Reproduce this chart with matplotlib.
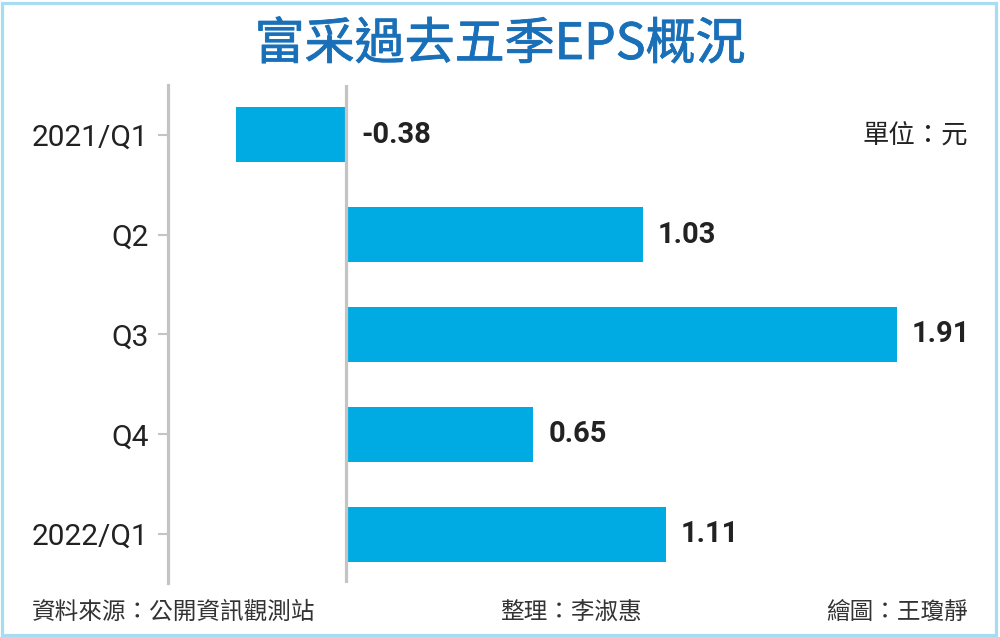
import matplotlib
matplotlib.use("Agg")
import matplotlib.pyplot as plt
import matplotlib.patheffects as pe
from matplotlib import font_manager
from matplotlib.patches import Rectangle

categories = ["2021/Q1", "Q2", "Q3", "Q4", "2022/Q1"]
eps = [-0.38, 1.03, 1.91, 0.65, 1.11]
value_labels = ["-0.38", "1.03", "1.91", "0.65", "1.11"]
title = "富采過去五季EPS概況"
unit = "單位：元"
source = "資料來源：公開資訊觀測站"
editor = "整理：李淑惠"
artist = "繪圖：王瓊靜"

names = {f.name for f in font_manager.fontManager.ttflist}
val_font = "Liberation Sans Narrow" if "Liberation Sans Narrow" in names else "Roboto"
cjk = ["Noto Sans CJK TC", "DejaVu Sans"]

BAR = "#00abe4"
GRAY = "#c4c4c4"
TITLE = "#1a70b8"

W, H = 1000, 637
fig = plt.figure(figsize=(W / 100, H / 100), dpi=100)
fig.patch.set_facecolor("white")

ax_left, ax_right = 168.3, 990.0
ax_top, ax_bot = 85.0, 583.0
ax = fig.add_axes([ax_left / W, 1 - ax_bot / H, (ax_right - ax_left) / W, (ax_bot - ax_top) / H])
ax.set_facecolor("none")

ypos = list(range(len(categories)))
ax.barh(ypos, eps, height=0.55, color=BAR, zorder=2)
ax.axvline(0, color=GRAY, lw=2.3, zorder=3)

ax.set_xlim(-0.616, (ax_right - 346) / 288.3)
ax.set_ylim(4.49, -0.5)

for s in ["top", "right", "bottom"]:
    ax.spines[s].set_visible(False)
ax.spines["left"].set_color(GRAY)
ax.spines["left"].set_linewidth(2.3)
ax.set_xticks([])
ax.set_yticks(ypos)
ax.set_yticklabels(categories, fontfamily="Roboto", fontsize=21.5, color="#222222")
ax.tick_params(axis="y", length=7, width=1.5, color=GRAY, pad=7)

for y, v, lab in zip(ypos, eps, value_labels):
    x0 = max(v, 0)
    ax.annotate(lab, xy=(x0, y), xytext=(15, 0), textcoords="offset pixels",
                ha="left", va="center", fontfamily=val_font, fontweight="bold",
                fontsize=22 if val_font != "Roboto" else 21, color="#222222")

fig.text(0.5, 1 - 45 / H, title, ha="center", va="center", fontfamily=cjk,
         fontweight="normal", fontsize=36, color=TITLE,
         path_effects=[pe.withStroke(linewidth=0.6, foreground=TITLE)])
fig.text(968 / W, 1 - 135 / H, unit, ha="right", va="center", fontfamily=cjk,
         fontsize=19, color="#222222")
fig.text(32 / W, 1 - 612 / H, source, ha="left", va="center", fontfamily=cjk,
         fontsize=17, color="#333333")
fig.text(500 / W, 1 - 612 / H, editor, ha="left", va="center", fontfamily=cjk,
         fontsize=17, color="#333333")
fig.text(968 / W, 1 - 612 / H, artist, ha="right", va="center", fontfamily=cjk,
         fontsize=17, color="#333333")

fig.patches.append(Rectangle((1.5 / W, 2.5 / H), 994 / W, 632 / H, transform=fig.transFigure,
                             fill=False, edgecolor="#a8ddf1", lw=2.3))

fig.savefig("out.png", dpi=100, facecolor="white")
